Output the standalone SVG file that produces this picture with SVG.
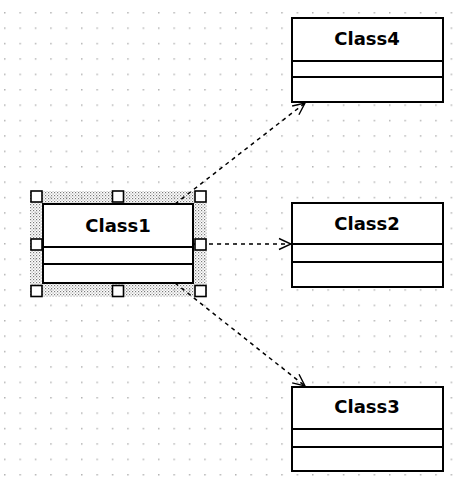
<svg xmlns="http://www.w3.org/2000/svg" width="466" height="487" viewBox="0 0 466 487">
<defs>
<pattern id="grid" x="4" y="12" width="15.4" height="15.4" patternUnits="userSpaceOnUse">
<rect x="0" y="0" width="1.5" height="1.5" fill="#b4b4b4"/>
</pattern>
<pattern id="hatch" x="0" y="0" width="3" height="3" patternUnits="userSpaceOnUse">
<rect x="0" y="0" width="1.2" height="1.2" fill="#7a7a7a"/>
<rect x="1.5" y="1.5" width="1.2" height="1.2" fill="#a8a8a8"/>
</pattern>
<marker id="open" viewBox="0 0 14 14" refX="13" refY="7" markerWidth="14" markerHeight="14" markerUnits="userSpaceOnUse" orient="auto">
<path d="M1,1.5 L13,7 L1,12.5" fill="none" stroke="#000" stroke-width="1.4"/>
</marker>
<style>
.box{fill:#fff;stroke:#000;stroke-width:2}
.div{stroke:#000;stroke-width:2}
.t{font-family:"DejaVu Sans",sans-serif;font-weight:bold;font-size:18px;fill:#000;text-anchor:middle}
.dep{fill:none;stroke:#000;stroke-width:1.5;stroke-dasharray:4 4;marker-end:url(#open)}
.h{fill:#fff;stroke:#000;stroke-width:1.6}
</style>
</defs>
<rect width="466" height="487" fill="#fff"/>
<rect width="466" height="487" fill="url(#grid)"/>
<rect x="30" y="191" width="177" height="106" fill="url(#hatch)"/>
<g id="connectors">
<line class="dep" x1="175" y1="204" x2="305" y2="103"/>
<line class="dep" x1="193" y1="244" x2="291" y2="244"/>
<line class="dep" x1="175" y1="283" x2="305" y2="386"/>
</g>
<g id="Class1">
<rect class="box" x="43" y="204" width="150" height="79"/>
<line class="div" x1="43" y1="247" x2="193" y2="247"/>
<line class="div" x1="43" y1="264" x2="193" y2="264"/>
<text class="t" x="118" y="232">Class1</text>
</g>
<g id="selection">
<rect class="h" x="31" y="191" width="11" height="11"/>
<rect class="h" x="112.5" y="191" width="11" height="11"/>
<rect class="h" x="195" y="191" width="11" height="11"/>
<rect class="h" x="31" y="239" width="11" height="11"/>
<rect class="h" x="195" y="239" width="11" height="11"/>
<rect class="h" x="31" y="285.5" width="11" height="11"/>
<rect class="h" x="112.5" y="285.5" width="11" height="11"/>
<rect class="h" x="195" y="285.5" width="11" height="11"/>
</g>
<g id="Class4">
<rect class="box" x="292" y="18" width="151" height="84"/>
<line class="div" x1="292" y1="61" x2="443" y2="61"/>
<line class="div" x1="292" y1="77" x2="443" y2="77"/>
<text class="t" x="367" y="45">Class4</text>
</g>
<g id="Class2">
<rect class="box" x="292" y="203" width="151" height="84"/>
<line class="div" x1="292" y1="244" x2="443" y2="244"/>
<line class="div" x1="292" y1="262" x2="443" y2="262"/>
<text class="t" x="367" y="230">Class2</text>
</g>
<g id="Class3">
<rect class="box" x="292" y="387" width="151" height="84"/>
<line class="div" x1="292" y1="429" x2="443" y2="429"/>
<line class="div" x1="292" y1="447" x2="443" y2="447"/>
<text class="t" x="367" y="413">Class3</text>
</g>
</svg>
